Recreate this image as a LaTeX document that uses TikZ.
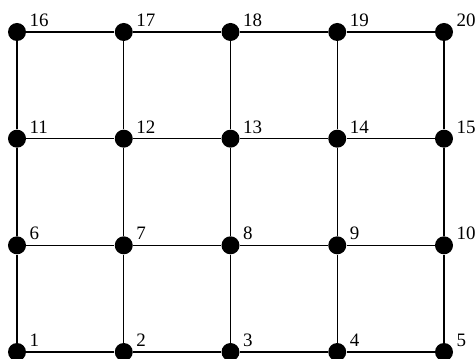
\documentclass[tikz,border=0pt]{standalone}
\usepackage{fontspec}
\setmainfont{Liberation Serif}
\usetikzlibrary{positioning}
\begin{document}
\begin{tikzpicture}[x=0.25mm,y=-0.25mm,font=\fontsize{13.5}{15}\selectfont,
  dot/.style={circle,fill=black,inner sep=0pt,minimum size=4.5mm},
  lbl/.style={anchor=base west,inner sep=0pt,xshift=2.2pt,yshift=4pt},
  edge/.style={line width=1pt}]
\useasboundingbox (0,0) rectangle (475,358);
% dots, numbered row by row from the bottom
\foreach \r in {0,...,3} {\foreach \c in {1,...,5} {
  \pgfmathtruncatemacro{\n}{5*\r+\c}
  \node[dot,label={[lbl]east:\n}] (v\n) at ({17+106.75*(\c-1)},{352-106.67*\r}) {};
}}
% rows
\foreach \r in {0,...,3} {\foreach \c in {1,...,4} {
  \pgfmathtruncatemacro{\a}{5*\r+\c}\pgfmathtruncatemacro{\b}{\a+1}
  \draw[edge] (v\a) -- (v\b);}}
% columns
\foreach \a in {1,...,15} {\pgfmathtruncatemacro{\b}{\a+5}\draw[edge] (v\a) -- (v\b);}
\end{tikzpicture}
\end{document}
